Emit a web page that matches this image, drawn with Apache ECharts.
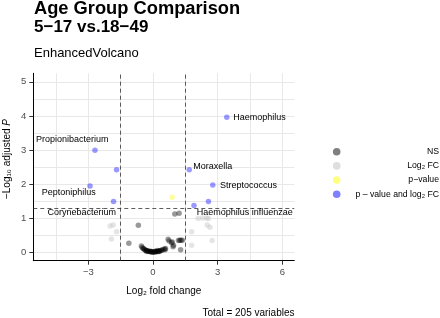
<!DOCTYPE html>
<html><head><meta charset="utf-8">
<script src="https://cdn.jsdelivr.net/npm/echarts@6/dist/echarts.min.js"></script>
<style>html,body{margin:0;padding:0;background:#fff}#c{width:440px;height:318px}</style>
</head><body><div id="c"></div>
<script>
// ---------- data ----------
const titleLines = ['Age Group Comparison', '5\u221217 vs.18\u221249'];
const subtitle = 'EnhancedVolcano';
const caption = 'Total = 205 variables';

const xTicks = [-3, 0, 3, 6];
const yTicks = [0, 1, 2, 3, 4, 5];
const xGridValues = [-4.5, -3, -1.5, 0, 1.5, 3, 4.5, 6];
const yGridValues = [0, 0.5, 1, 1.5, 2, 2.5, 3, 3.5, 4, 4.5, 5];

const fcCutoff = 1.5;
const pCutoffLog = 1.301; // -log10(0.05)

// NS (not significant)
const nsPoints = [
  [-1.12, 0.26], [-0.68, 0.79], [-0.54, 0.18], [-0.50, 0.14], [-0.46, 0.11],
  [-0.42, 0.09], [-0.38, 0.07], [-0.34, 0.06], [-0.30, 0.05], [-0.26, 0.04],
  [-0.22, 0.03], [-0.18, 0.02], [-0.14, 0.02], [-0.10, 0.01], [-0.06, 0.01],
  [-0.02, 0.00], [0.02, 0.00], [0.06, 0.01], [0.10, 0.01], [0.14, 0.01],
  [0.18, 0.02], [0.22, 0.02], [0.26, 0.03], [0.30, 0.04], [0.35, 0.05],
  [0.40, 0.06], [0.45, 0.07], [0.52, 0.09], [0.58, 0.11], [-0.30, 0.02],
  [-0.10, 0.03], [0.10, 0.03], [0.30, 0.02], [0.20, 0.05], [0.56, 0.07],
  [0.70, 0.38], [0.75, 0.33], [0.86, 0.28], [0.89, 0.30], [0.93, 0.16],
  [0.95, 0.20], [1.01, 1.12], [1.21, 1.14], [1.18, 0.34], [1.24, 0.35],
  [1.30, 0.35], [1.36, 0.35], [1.28, 0.07]
];
// Log2 FC only
const fcPoints = [
  [-1.99, 0.77], [-1.85, 0.80], [-1.69, 0.60], [-1.93, 0.39],
  [1.79, 0.60], [1.79, 0.20], [2.09, 0.99], [2.30, 1.00], [2.48, 1.00],
  [2.56, 0.99], [2.51, 0.80], [2.64, 0.73], [2.74, 0.34]
];
// p-value only
const pPoints = [[0.88, 1.61]];
// p-value and log2 FC
const bothPoints = [
  [3.42, 3.96], [-2.69, 2.99], [-1.69, 2.42], [1.68, 2.42], [2.77, 1.97],
  [-2.92, 1.94], [-1.83, 1.49], [2.57, 1.49], [1.90, 1.37]
];
const bothNames = [
  'Haemophilus', 'Propionibacterium', '', 'Moraxella', 'Streptococcus',
  'Peptoniphilus', 'Corynebacterium', '', 'Haemophilus influenzae'
];

const legendLabels = ['NS', 'Log\u2082 FC', 'p\u2212value', 'p \u2013 value and log\u2082 FC'];

// ---------- styling ----------
const FONT = '"Liberation Sans", Arial, Helvetica, sans-serif';
const colors = ['rgba(0,0,0,0.5)', 'rgba(190,190,190,0.5)', 'rgba(255,255,0,0.5)', 'rgba(0,0,255,0.5)'];
const PT = 5.5;

const labelPlacement = {
  'Haemophilus': {position: 'right', distance: 3.7, offset: [0, 0]},
  'Propionibacterium': {position: 'inside', offset: [-22.7, -10.3]},
  'Moraxella': {position: 'right', distance: 1.3, offset: [0, -3.7]},
  'Streptococcus': {position: 'right', distance: 4.5, offset: [0, 0]},
  'Peptoniphilus': {position: 'inside', offset: [-21.2, 6.2]},
  'Corynebacterium': {position: 'inside', offset: [-31.9, 11.6]},
  'Haemophilus influenzae': {position: 'inside', offset: [50.8, 7.5]}
};

const fmt = v => (v < 0 ? '\u2212' + Math.abs(v) : String(v));

const chart = echarts.init(document.getElementById('c'), null, {renderer: 'canvas'});

const gridLineStyle = {color: '#e8e8e8', width: 1, type: 'solid'};
const dashStyle = {color: '#333', width: 0.8, type: [4, 3]};

const scatterBase = (data, color, z) => ({
  type: 'scatter',
  data: data,
  symbol: 'circle',
  symbolSize: PT,
  itemStyle: {color: color, borderWidth: 0},
  z: z,
  silent: true
});

// labelled points carry the text labels on an invisible overlay series
const labelData = [];
bothPoints.forEach((p, i) => {
  const name = bothNames[i];
  if (name && labelPlacement[name]) {
    labelData.push({
      value: p, name: name,
      label: Object.assign({show: true, formatter: name}, labelPlacement[name])
    });
  }
});

const legendGraphics = [];
const legendX = 336.7, legendY0 = 151.7, legendDy = 14.2;
legendLabels.forEach((t, i) => {
  legendGraphics.push({
    type: 'circle', shape: {cx: legendX, cy: legendY0 + i * legendDy, r: 3.8},
    style: {fill: colors[i]}, silent: true
  });
  legendGraphics.push({
    type: 'text', x: 439, y: legendY0 + i * legendDy,
    style: {text: t, fill: '#000', font: '8.7px ' + FONT, textAlign: 'right', textVerticalAlign: 'middle'},
    silent: true
  });
});

const option = {
  animation: false,
  backgroundColor: '#fff',
  grid: {left: 33.3, right: 145.7, top: 73.3, bottom: 57.3, containLabel: false},
  xAxis: {
    type: 'value', min: -5.55, max: 6.55,
    splitLine: {show: false},
    axisLine: {show: true, onZero: false, lineStyle: {color: '#000', width: 1}},
    axisTick: {show: true, customValues: xTicks, length: 4, lineStyle: {color: '#333', width: 1}},
    axisLabel: {customValues: xTicks, formatter: fmt, color: '#4d4d4d', fontSize: 9.5, margin: 7, fontFamily: FONT}
  },
  yAxis: {
    type: 'value', min: -0.25, max: 5.25,
    splitLine: {show: false},
    axisLine: {show: true, onZero: false, lineStyle: {color: '#000', width: 1}},
    axisTick: {show: true, customValues: yTicks, length: 4, lineStyle: {color: '#333', width: 1}},
    axisLabel: {customValues: yTicks, formatter: fmt, color: '#4d4d4d', fontSize: 9.5, margin: 7, fontFamily: FONT}
  },
  textStyle: {fontFamily: FONT},
  series: [
    {
      type: 'scatter', data: [], silent: true, z: 0,
      markLine: {
        silent: true, z: 0, symbol: ['none', 'none'], label: {show: false}, animation: false,
        data: [
          ...xGridValues.map(v => ({xAxis: v, lineStyle: gridLineStyle})),
          ...yGridValues.map(v => ({yAxis: v, lineStyle: gridLineStyle}))
        ]
      }
    },
    {
      type: 'scatter', data: [], silent: true, z: 1,
      markLine: {
        silent: true, z: 1, symbol: ['none', 'none'], label: {show: false}, animation: false,
        data: [
          {xAxis: -fcCutoff, lineStyle: dashStyle},
          {xAxis: fcCutoff, lineStyle: dashStyle},
          {yAxis: pCutoffLog, lineStyle: dashStyle}
        ]
      }
    },
    scatterBase(nsPoints, colors[0], 3),
    scatterBase(fcPoints, colors[1], 3),
    scatterBase(pPoints, colors[2], 3),
    scatterBase(bothPoints, colors[3], 4),
    {
      type: 'scatter', data: labelData, symbol: 'circle', symbolSize: PT,
      itemStyle: {color: 'rgba(0,0,0,0)', borderWidth: 0, opacity: 1},
      z: 5, silent: true,
      label: {show: true, color: '#000', fontSize: 9, fontFamily: FONT, textBorderWidth: 0, textBorderColor: 'transparent', opacity: 1}
    }
  ],
  graphic: [
    {type: 'text', x: 34, y: 8.6, style: {text: titleLines[0], fill: '#000', font: 'bold 18.3px ' + FONT, textVerticalAlign: 'middle'}, silent: true},
    {type: 'text', x: 34, y: 26.9, style: {text: titleLines[1], fill: '#000', font: 'bold 17px ' + FONT, textVerticalAlign: 'middle'}, silent: true},
    {type: 'text', x: 34, y: 53.2, style: {text: subtitle, fill: '#000', font: '13px ' + FONT, textVerticalAlign: 'middle'}, silent: true},
    {type: 'text', x: 163.8, y: 291.5, style: {text: 'Log\u2082 fold change', fill: '#000', font: '10px ' + FONT, textAlign: 'center', textVerticalAlign: 'middle'}, silent: true},
    {type: 'text', x: 294.5, y: 313, style: {text: caption, fill: '#000', font: '10px ' + FONT, textAlign: 'right', textVerticalAlign: 'middle'}, silent: true},
    {type: 'text', x: 7, y: 159, rotation: Math.PI / 2,
      style: {text: '{n|\u2212Log\u2081\u2080 adjusted }{i|P}', fill: '#000', textAlign: 'center', textVerticalAlign: 'middle',
        rich: {n: {fontSize: 10, fontFamily: FONT, fill: '#000'}, i: {fontSize: 10, fontFamily: FONT, fontStyle: 'italic', fill: '#000'}}},
      silent: true},
    ...legendGraphics
  ]
};
chart.setOption(option);
</script>
</body></html>
